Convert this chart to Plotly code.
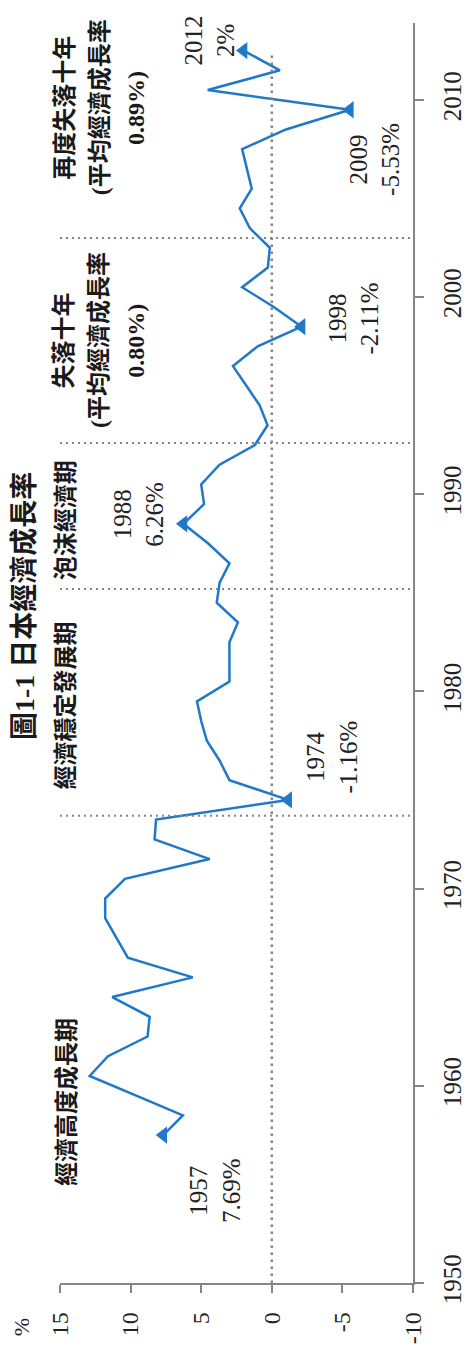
import plotly.graph_objects as go

# ---- data ----
years = list(range(1957, 2013))
growth = [7.69, 6.3, 9.6, 12.9, 11.6, 8.8, 8.65, 11.3, 5.6, 10.2,
          11.0, 11.8, 11.8, 10.4, 4.4, 8.3, 8.2, -1.16, 3.0, 3.7,
          4.6, 5.0, 5.3, 3.0, 3.0, 3.0, 2.4, 3.9, 3.7, 3.0,
          4.5, 6.26, 4.8, 5.0, 3.7, 1.2, 0.3, 0.85, 1.8, 2.75,
          1.0, -2.11, -0.14, 2.1, 0.28, 0.14, 1.56, 2.27, 1.42, 1.77,
          2.1, -1.0, -5.53, 4.54, -0.57, 2.0]

marked_years = [1957, 1974, 1988, 1998, 2009, 2012]
marked_labels = ["1957<br>7.69%", "1974<br>-1.16%", "1988<br>6.26%",
                 "1998<br>-2.11%", "2009<br>-5.53%", "2012<br>2%"]

growth_ticks = [15, 10, 5, 0, -5, -10]
growth_tick_text = ["15", "10", "5", "0", "-5", "-10"]
year_ticks = [1950, 1960, 1970, 1980, 1990, 2000, 2010]
period_bounds = [1973.7, 1985.2, 1992.6, 2003.0]

title_text = "圖1-1 日本經濟成長率"

# points are plotted at mid-year
pos = [y + 0.5 for y in years]
marked_growth = [growth[years.index(y)] for y in marked_years]
marked_pos = [y + 0.5 for y in marked_years]

BLUE = "#1f78c8"
GREY = "#858585"
SERIF = "Liberation Serif, 'Times New Roman', serif"
CJK = "'Liberation Serif', 'Noto Sans CJK TC', sans-serif"

fig = go.Figure()
fig.add_trace(go.Scatter(x=growth, y=pos, mode="lines",
                         line=dict(color=BLUE, width=2.5), showlegend=False,
                         hoverinfo="skip"))
fig.add_trace(go.Scatter(x=marked_growth, y=marked_pos, mode="markers",
                         marker=dict(symbol="triangle-left", size=15, color=BLUE),
                         showlegend=False, hoverinfo="skip"))

# dotted reference lines
fig.add_shape(type="line", x0=0, x1=0, y0=1950, y1=2012.4, xref="x", yref="y",
              line=dict(color=GREY, width=2.5, dash="2.5px,4.5px"))
for b in period_bounds:
    fig.add_shape(type="line", x0=15, x1=-10, y0=b, y1=b, xref="x", yref="y",
                  line=dict(color=GREY, width=2, dash="2px,4px"))

# point labels
label_pos = [(3.97, 1954.7), (-4.26, 1976.7), (9.43, 1989.0),
             (-5.8, 1998.9), (-7.3, 2007.0), (4.4, 2013.0)]
for (lx, ly), t in zip(label_pos, marked_labels):
    fig.add_annotation(x=lx, y=ly, xref="x", yref="y", text=t, showarrow=False,
                       textangle=-90, font=dict(family=SERIF, size=25, color="#222"),
                       xanchor="center", yanchor="middle")

# period labels
period_labels = [
    ("經濟高度成長期", 14.55, 1959.2),
    ("經濟穩定發展期", 14.55, 1979.3),
    ("泡沫經濟期", 14.55, 1988.7),
    ("失落十年", 14.65, 1997.8),
    ("(平均經濟成長率", 12.2, 1997.8),
    ("0.80%)", 9.6, 1997.8),
    ("再度失落十年", 14.65, 2009.6),
    ("(平均經濟成長率", 12.2, 2009.6),
    ("0.89%)", 9.6, 2009.6),
]
for t, lx, ly in period_labels:
    fig.add_annotation(x=lx, y=ly, xref="x", yref="y", text="<b>" + t + "</b>",
                       showarrow=False, textangle=-90,
                       font=dict(family=CJK, size=24, color="#1a1a1a"),
                       xanchor="center", yanchor="middle")

# title at the left edge
fig.add_annotation(x=-0.1, y=0.537, xref="paper", yref="paper",
                   text="<b>" + title_text + "</b>", showarrow=False, textangle=-90,
                   font=dict(family=CJK, size=28, color="#1a1a1a"),
                   xanchor="center", yanchor="middle")

# axis unit
fig.add_annotation(x=-0.11, y=-0.035, xref="paper", yref="paper", text="%",
                   showarrow=False, textangle=-90,
                   font=dict(family=SERIF, size=22, color="#222"),
                   xanchor="center", yanchor="middle")

fig.update_xaxes(range=[15, -10], tickvals=growth_ticks, ticktext=growth_tick_text,
                 tickangle=-90, automargin=False,
                 showline=True, linecolor=GREY, linewidth=1.5,
                 ticks="outside", ticklen=8, tickcolor=GREY, tickwidth=1.5,
                 showgrid=False, zeroline=False, ticklabelstandoff=10,
                 tickfont=dict(family=SERIF, size=24, color="#222"))
fig.update_yaxes(range=[1950, 2013.9], tickvals=year_ticks, tickangle=-90, side="right",
                 automargin=False,
                 showline=True, linecolor=GREY, linewidth=1.5,
                 ticks="outside", ticklen=9, tickcolor=GREY, tickwidth=1.5,
                 showgrid=False, zeroline=False, ticklabelstandoff=7,
                 tickfont=dict(family=SERIF, size=25, color="#222"))

# the page body places the figure 8px in from the top-left corner
fig.update_layout(width=463, height=1339,
                  margin=dict(l=52, r=58, t=15, b=64),
                  paper_bgcolor="white", plot_bgcolor="white")

fig.write_html("out.html")
